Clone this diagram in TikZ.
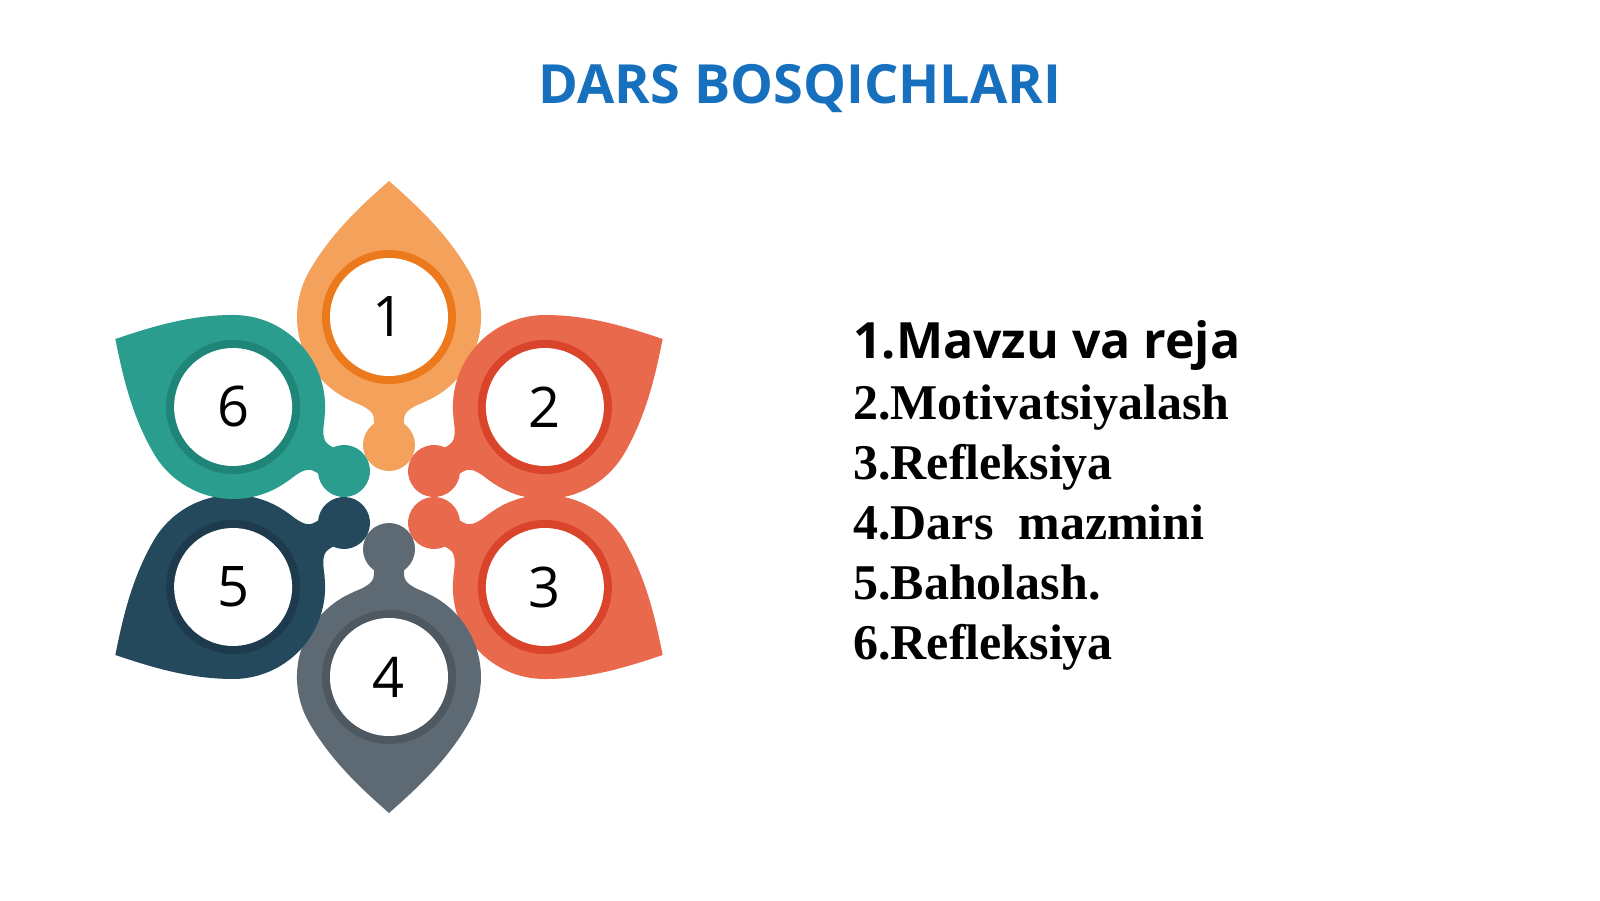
\documentclass[tikz,border=0pt]{standalone}
\usepackage{fontspec}
\usetikzlibrary{calc}
\setmainfont{Liberation Serif}
\newfontfamily\osans{Open Sans}
\definecolor{titleblue}{HTML}{1670BE}
\definecolor{orbody}{HTML}{F4A25B}
\definecolor{orring}{HTML}{EC7A1C}
\definecolor{rdbody}{HTML}{E8694B}
\definecolor{rdring}{HTML}{D9442B}
\definecolor{gybody}{HTML}{5E6A73}
\definecolor{gyring}{HTML}{4D5860}
\definecolor{nvbody}{HTML}{24485C}
\definecolor{nvring}{HTML}{1D3B4D}
\definecolor{tlbody}{HTML}{2A9D8E}
\definecolor{tlring}{HTML}{1E8578}
\newcommand\drawpetal[5]{%
  \begin{scope}[shift={(389,403)},rotate={#1-90}]
    \begin{scope}[shift={(0,180)}]
      \fill[#2] (0,136) .. controls (26,113) and (57.2,85) .. (79.7,46)
        arc[start angle=30,end angle=-210,radius=92]
        .. controls (-57.2,85) and (-26,113) .. (0,136) -- cycle;
      \fill[#2] (-36,-84.7) .. controls (-18,-92) and (-15,-96) .. (-15,-104)
        -- (-15,-115) -- (15,-115) -- (15,-104)
        .. controls (15,-96) and (18,-92) .. (36,-84.7) -- cycle;
      \fill[#2] (0,-128) circle[radius=26];
      \fill[#3] (0,0) circle[radius=67];
      \fill[white] (0,0) circle[radius=59];
    \end{scope}
  \end{scope}
  \node[numlabel] (#5) at ($(389,403)+(#1:180)$) {#4};
}
\begin{document}
\begin{tikzpicture}[x=1pt,y=1pt,
  numlabel/.style={inner sep=0pt,font=\osans\fontsize{56}{60}\selectfont,text=black},
  listline/.style={anchor=base west,inner sep=0pt,font=\bfseries\fontsize{50}{60}\selectfont,text=black}]
\useasboundingbox (0,0) rectangle (1600,900);
\fill[white] (0,0) rectangle (1600,900);
\node[anchor=base,inner sep=0pt,text=titleblue,font=\osans\bfseries\fontsize{54}{60}\selectfont] (title) at (800,796) {DARS BOSQICHLARI};
\drawpetal{90}{orbody}{orring}{1}{p1}
\drawpetal{30}{rdbody}{rdring}{2}{p2}
\drawpetal{-30}{rdbody}{rdring}{3}{p3}
\drawpetal{-90}{gybody}{gyring}{4}{p4}
\drawpetal{-150}{nvbody}{nvring}{5}{p5}
\drawpetal{150}{tlbody}{tlring}{6}{p6}
\node[listline,font=\osans\bfseries\fontsize{50}{60}\selectfont] (l1) at (853,541) {1.Mavzu va reja};
\node[listline] (l2) at (853,480.6) {2.Motivatsiyalash};
\node[listline] (l3) at (853,420.4) {3.Refleksiya};
\node[listline] (l4) at (853,360.2) {4.Dars~ mazmini};
\node[listline] (l5) at (853,300) {5.Baholash.};
\node[listline] (l6) at (853,241) {6.Refleksiya};
\end{tikzpicture}
\end{document}
